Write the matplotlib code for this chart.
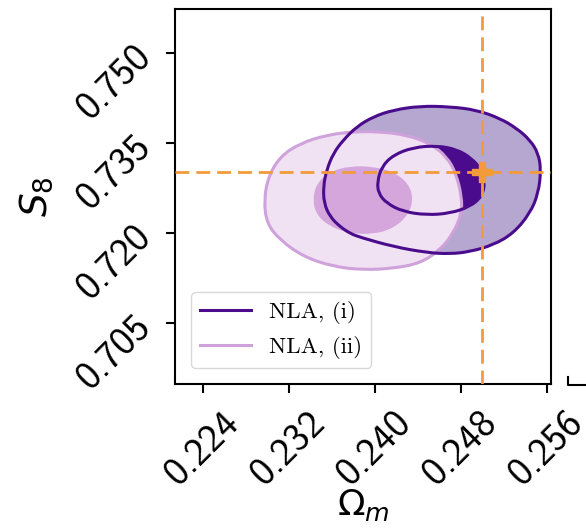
import numpy as np
import matplotlib
matplotlib.use("Agg")
import matplotlib.pyplot as plt
from matplotlib.path import Path
from matplotlib.patches import PathPatch
from matplotlib.lines import Line2D

# ---- data ----
x_ticks = [0.224, 0.232, 0.240, 0.248, 0.256]
y_ticks = [0.705, 0.720, 0.735, 0.750]
x_tick_labels = ["0.224", "0.232", "0.240", "0.248", "0.256"]
y_tick_labels = ["0.705", "0.720", "0.735", "0.750"]
x_lim = (0.22143, 0.25637)
y_lim = (0.6949, 0.75727)

truth_om = 0.2500
truth_s8 = 0.7302

labels = ["NLA, (i)", "NLA, (ii)"]

# NLA (i): 2-sigma and 1-sigma contour outlines (Omega_m, S8)
nla1_outer_om = [0.23521, 0.23552, 0.23614, 0.23707, 0.23831, 0.23986, 0.24172, 0.24420,
                 0.24699, 0.24946, 0.25163, 0.25318, 0.25442, 0.25519, 0.25544, 0.25519,
                 0.25442, 0.25287, 0.25101, 0.24884, 0.24699, 0.24482, 0.24172, 0.23862,
                 0.23769, 0.23676, 0.23583, 0.23528]
nla1_outer_s8 = [0.72772, 0.73049, 0.73326, 0.73548, 0.73770, 0.73936, 0.74047, 0.74113,
                 0.74102, 0.74047, 0.73908, 0.73742, 0.73548, 0.73326, 0.73049, 0.72661,
                 0.72329, 0.71996, 0.71802, 0.71691, 0.71653, 0.71675, 0.71775, 0.71930,
                 0.71996, 0.72107, 0.72273, 0.72495]
nla1_inner_om = [0.24023, 0.24064, 0.24172, 0.24358, 0.24575, 0.24761, 0.24900, 0.24993,
                 0.25024, 0.24993, 0.24884, 0.24699, 0.24482, 0.24265, 0.24110, 0.24033]
nla1_inner_s8 = [0.72855, 0.73105, 0.73299, 0.73426, 0.73454, 0.73393, 0.73243, 0.73049,
                 0.72828, 0.72606, 0.72440, 0.72329, 0.72301, 0.72356, 0.72495, 0.72661]

# NLA (ii)
nla2_outer_om = [0.22970, 0.23010, 0.23119, 0.23305, 0.23552, 0.23800, 0.24048, 0.24296,
                 0.24513, 0.24668, 0.24754, 0.24807, 0.24807, 0.24730, 0.24606, 0.24420,
                 0.24172, 0.23893, 0.23614, 0.23336, 0.23119, 0.22995]
nla2_outer_s8 = [0.72550, 0.72938, 0.73271, 0.73493, 0.73631, 0.73687, 0.73687, 0.73631,
                 0.73493, 0.73271, 0.72994, 0.72606, 0.72329, 0.71996, 0.71719, 0.71497,
                 0.71414, 0.71387, 0.71442, 0.71608, 0.71885, 0.72162]
nla2_inner_om = [0.23422, 0.23459, 0.23583, 0.23769, 0.23986, 0.24172, 0.24311, 0.24358,
                 0.24311, 0.24172, 0.23986, 0.23769, 0.23583, 0.23459]
nla2_inner_s8 = [0.72550, 0.72828, 0.73022, 0.73116, 0.73105, 0.73022, 0.72828, 0.72578,
                 0.72301, 0.72079, 0.71980, 0.71996, 0.72107, 0.72301]

# ---- styles ----
c1_line = "#4a0c8c"
c1_outer = "#b5a7d0"
c1_inner = "#4a0c8c"
c2_line = "#cfa2dc"
c2_outer = "#f1e2f3"
c2_inner = "#d4a6dc"
orange = "#f39a3a"


def smooth_path(xs, ys):
    """Closed path through the traced outline using quadratic Bezier segments."""
    pts = np.column_stack([xs, ys])
    n = len(pts)
    mids = (pts + np.roll(pts, -1, axis=0)) / 2.0
    verts = [mids[-1]]
    codes = [Path.MOVETO]
    for i in range(n):
        verts.append(pts[i])
        verts.append(mids[i])
        codes += [Path.CURVE3, Path.CURVE3]
    return Path(np.array(verts), codes)


plt.rcParams["mathtext.fontset"] = "dejavusans"

fig = plt.figure(figsize=(5.86, 5.30), dpi=100)
ax = fig.add_axes([175 / 586, 1 - 384 / 530, 376 / 586, 375 / 530])

p1o = smooth_path(nla1_outer_om, nla1_outer_s8)
p1i = smooth_path(nla1_inner_om, nla1_inner_s8)
p2o = smooth_path(nla2_outer_om, nla2_outer_s8)
p2i = smooth_path(nla2_inner_om, nla2_inner_s8)

# fills
ax.add_patch(PathPatch(p1o, facecolor=c1_outer, edgecolor="none", zorder=1))
ax.add_patch(PathPatch(p1i, facecolor=c1_inner, edgecolor="none", zorder=1.1))
ax.add_patch(PathPatch(p2o, facecolor=c2_outer, edgecolor="none", zorder=1.2))
ax.add_patch(PathPatch(p2i, facecolor=c2_inner, edgecolor="none", zorder=1.3))
# lines
ax.add_patch(PathPatch(p2o, facecolor="none", edgecolor=c2_line, lw=2.2, zorder=2))
ax.add_patch(PathPatch(p1o, facecolor="none", edgecolor=c1_line, lw=2.2, zorder=2.1))
ax.add_patch(PathPatch(p1i, facecolor="none", edgecolor=c1_line, lw=2.2, zorder=2.1))

ax.axvline(truth_om, color=orange, lw=2, ls=(0, (5, 2.5)), zorder=3)
ax.axhline(truth_s8, color=orange, lw=2, ls=(0, (5, 2.5)), zorder=3)
ax.plot([truth_om], [truth_s8], marker="P", ms=15, color=orange, mec=orange, zorder=4)

ax.set_xlim(*x_lim)
ax.set_ylim(*y_lim)
ax.set_xticks(x_ticks)
ax.set_yticks(y_ticks)
ax.set_xticklabels(x_tick_labels, rotation=45, fontsize=28, family="cmss10")
ax.set_yticklabels(y_tick_labels, rotation=45, fontsize=28, family="cmss10")
ax.tick_params(direction="out", length=6.5, width=1.5)
ax.tick_params(axis="x", pad=9)
ax.tick_params(axis="y", pad=5)
for s in ax.spines.values():
    s.set_linewidth(1.5)

ax.set_xlabel(r"$\Omega_m$", fontsize=26)
ax.set_ylabel(r"$S_8$", fontsize=27)
ax.xaxis.set_label_coords(0.5, -0.275)
ax.yaxis.set_label_coords(-0.32, 0.5)

handles = [Line2D([], [], color=c1_line, lw=2.2), Line2D([], [], color=c2_line, lw=2.2)]
leg = ax.legend(handles, labels, loc="lower left", prop={"family": "cmr10", "size": 16.5},
                handlelength=2.2, borderaxespad=0.7, framealpha=0.9, edgecolor="#d5d5d5")
leg.set_zorder(5)

# corner of the neighbouring panel
fig.add_artist(Line2D([568 / 586, 568 / 586, 1.0], [1 - 377 / 530, 1 - 385 / 530, 1 - 385 / 530],
                      color="black", lw=1.5))

fig.savefig("out.png", dpi=100)
